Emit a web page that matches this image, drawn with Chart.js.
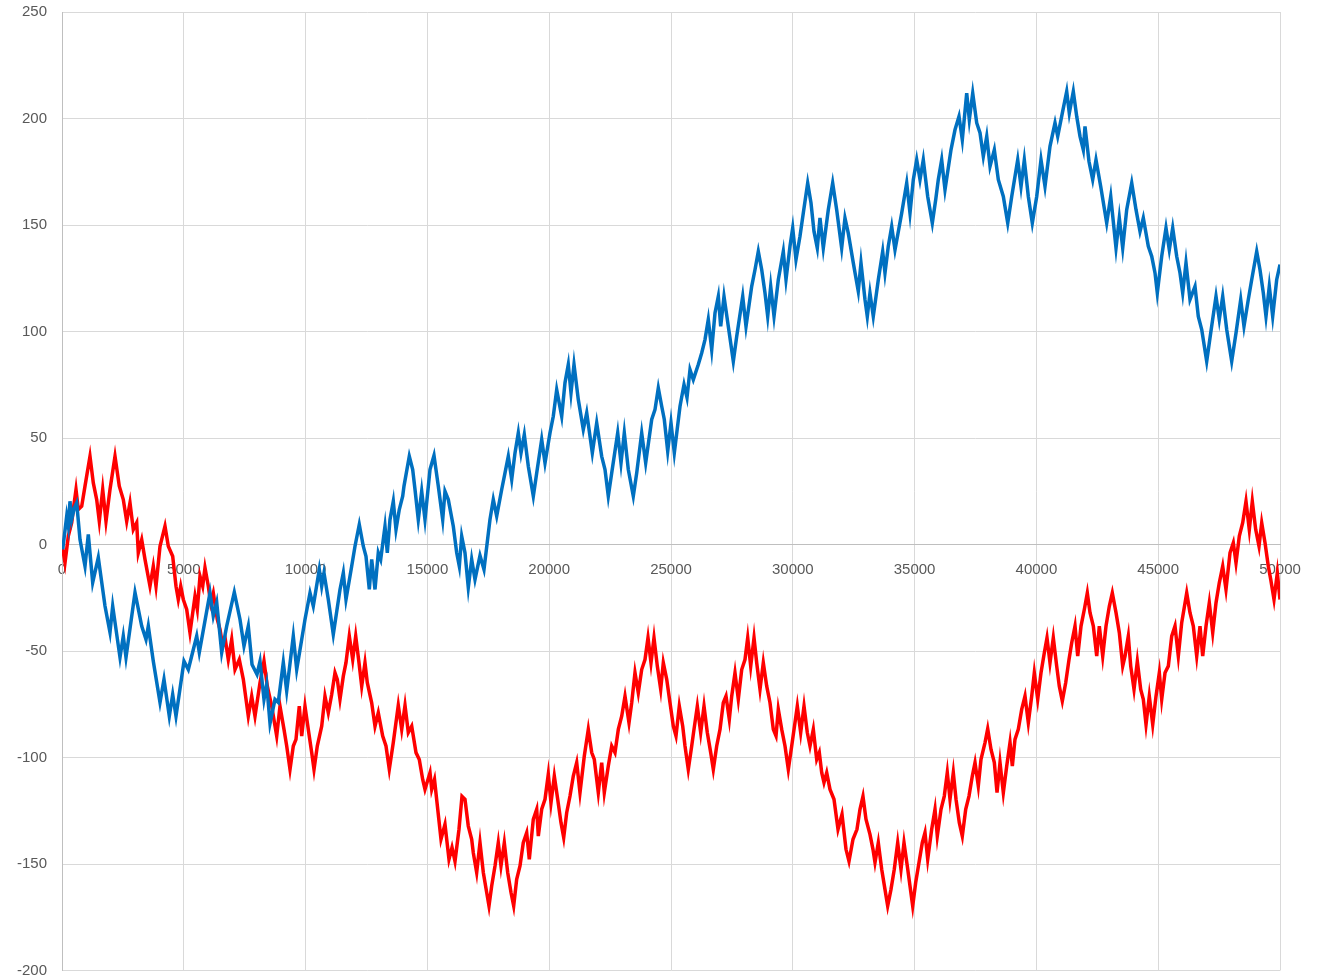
<!DOCTYPE html>
<html>
<head>
<meta charset="utf-8">
<title>Random walks</title>
<script src="https://cdn.jsdelivr.net/npm/chart.js@4.4.1/dist/chart.umd.min.js"></script>
<style>
    html, body { margin: 0; padding: 0; background: #ffffff; }
    #wrap { width: 1319px; height: 978px; }
</style>
</head>
<body>
<div id="wrap"><canvas id="walkChart" width="1319" height="978"></canvas></div>
<script>
// [step, position] pairs for the two walks
const blueWalk = [
    [0,0],[30,-2.3],[193,13.3],[259,8.6],[328,20.3],[398,11.7],[505,17.2],[603,19.6],[739,2.3],[944,-10.2],
    [1080,4.7],[1260,-17.8],[1490,-6.1],[1765,-28.9],[1970,-41.3],[2081,-28.9],[2381,-53],[2516,-43],[2627,-53],[2997,-22.5],
    [3272,-38.3],[3448,-44.6],[3543,-38.3],[3748,-54.8],[4023,-74.1],[4187,-63.3],[4405,-80.6],[4544,-70.4],[4680,-80.6],[5008,-54.8],
    [5185,-58.7],[5530,-43],[5636,-50.7],[6075,-22.7],[6211,-33.6],[6351,-27.2],[6556,-50.7],[6761,-38.3],[7073,-22.4],[7307,-35.2],
    [7471,-47.7],[7648,-38.3],[7800,-56.3],[8005,-61],[8128,-54.9],[8292,-72.7],[8403,-65.7],[8539,-84],[8744,-72.7],[8879,-74.1],
    [9085,-55.4],[9224,-68.8],[9495,-43],[9635,-58.7],[9840,-44.6],[9975,-35.2],[10181,-22.7],[10316,-28.9],[10562,-11.7],[10661,-19.6],
    [10755,-13.3],[10932,-25.8],[11137,-42.2],[11412,-21.1],[11548,-13.3],[11658,-25.8],[11892,-10.2],[12028,-0.8],[12204,9.4],[12368,-0.8],
    [12479,-5.5],[12615,-21.1],[12713,-7],[12849,-21.1],[12984,-3.9],[13083,-7],[13259,8.6],[13354,-3.9],[13464,11.7],[13600,20.3],
    [13711,7],[13846,16.4],[13986,22.7],[14039,27.4],[14257,41.4],[14396,35.2],[14491,25.8],[14626,11.7],[14766,25],[14901,11.7],
    [15107,35.2],[15271,41.8],[15448,27.4],[15628,11.7],[15722,25],[15858,21.1],[16063,8.6],[16203,-3.9],[16310,-10.2],[16408,3.9],
    [16543,-3.9],[16679,-20.2],[16818,-7],[16954,-16.4],[17159,-5.2],[17323,-11.7],[17569,11.7],[17705,21.1],[17845,13.3],[18050,25.8],
    [18186,33.6],[18321,41.4],[18461,30.5],[18596,43],[18732,52.4],[18843,43],[18978,51.6],[19142,36.7],[19348,22.7],[19487,33.6],
    [19692,49.3],[19828,38.3],[20033,52.4],[20168,60.2],[20308,72.7],[20513,60.2],[20648,75.9],[20784,84.5],[20895,71.2],[21018,84.5],
    [21195,68],[21400,54],[21540,61.8],[21770,43],[21950,57.1],[22155,41.4],[22291,35.2],[22426,22.7],[22566,33.6],[22812,52.4],
    [22948,38.3],[23083,52.4],[23247,35.2],[23452,22.7],[23592,33.6],[23797,52.4],[23961,38.3],[24208,58.7],[24343,63.3],[24479,73.5],
    [24618,64.9],[24725,58.7],[24865,43.8],[25000,57.1],[25136,43],[25370,64.9],[25534,75.1],[25657,69],[25780,82.1],[25916,77.4],
    [26121,84.5],[26260,89.9],[26396,96.2],[26531,105.6],[26671,91.5],[26806,108.7],[26942,116.5],[27040,102.4],[27176,116.5],[27353,102.4],
    [27558,86],[27697,97.7],[27944,116.5],[28079,102.4],[28313,121.2],[28448,129],[28584,137.6],[28724,129],[28859,118.1],[28970,107.1],
    [29093,121.2],[29229,107.1],[29405,124.3],[29610,137.6],[29721,124.3],[29885,140],[29996,148.6],[30131,133.7],[30295,144.7],[30431,155.6],
    [30611,169.7],[30747,160.3],[30870,147],[31005,139.2],[31116,153.3],[31252,139.2],[31457,157.2],[31637,169.7],[31801,157.2],[32006,139.2],
    [32142,153.3],[32277,146.2],[32483,132.2],[32688,118.9],[32799,132.2],[32963,115],[33058,107.1],[33168,118.1],[33304,107.1],[33510,124.3],
    [33690,137.6],[33784,127.5],[33920,140],[34060,149.3],[34195,138.4],[34470,155.6],[34676,169.7],[34811,155.6],[34947,171.3],[35086,180.6],
    [35222,171.3],[35357,180.6],[35538,163.4],[35727,150.9],[35866,161.9],[35973,171.3],[36112,180.6],[36248,166.6],[36494,185.3],[36659,194.7],
    [36823,201],[36958,190],[37139,211.9],[37246,199.4],[37386,211.9],[37550,197.9],[37686,193.2],[37821,182.2],[37961,191.6],[38096,177.5],
    [38273,185.3],[38437,171.3],[38642,163.4],[38823,150.9],[38987,163.4],[39233,180.6],[39369,168.1],[39504,180.6],[39668,163.4],[39832,150.9],
    [40013,163.4],[40189,180.6],[40353,168.1],[40558,186.9],[40764,197.9],[40875,191.6],[41064,202.5],[41244,212.7],[41351,202.5],[41515,212.7],
    [41655,201],[41790,191.6],[41926,185.3],[41995,196.3],[42159,179.8],[42311,171.3],[42447,180.6],[42640,168.1],[42886,150.9],[43051,163.4],
    [43268,139.2],[43404,153.3],[43543,139.2],[43707,157.2],[43913,169.7],[44089,157.2],[44253,147],[44389,153.3],[44594,140],[44734,135.3],
    [44869,127.5],[44963,118.1],[45144,135.3],[45320,148.6],[45456,138.4],[45595,148.6],[45759,135.3],[45895,127.5],[46006,118.1],[46141,132.2],
    [46305,115],[46511,121.2],[46646,107.1],[46786,100.9],[46991,86],[47155,99.3],[47373,116.5],[47508,105.6],[47648,116.5],[47812,100.9],
    [48017,86],[48194,99.3],[48387,115],[48522,102.4],[48699,115],[48838,124.3],[49044,137.6],[49179,129],[49315,118.1],[49425,107.1],
    [49561,121.2],[49700,107.1],[49864,124.3],[50000,131.4]
];

const redWalk = [
    [0,0],[123,-8.6],[259,3.9],[398,10.2],[464,16.4],[575,25.8],[669,16.4],[809,18],[944,27.4],[1149,41.4],
    [1285,28.9],[1424,21.1],[1531,10.9],[1671,25.8],[1806,10.9],[1970,25.8],[2176,41.4],[2352,27.4],[2516,21.1],[2656,10.9],
    [2791,19.6],[2927,7],[3066,10.2],[3132,-3.9],[3272,2.3],[3407,-7],[3612,-19.6],[3748,-10.2],[3859,-19.6],[4023,-0.8],
    [4228,8.6],[4364,-0.8],[4544,-5.5],[4680,-19.6],[4774,-25.8],[4873,-19.6],[4980,-25.8],[5119,-30.5],[5254,-41.4],[5460,-24.3],
    [5554,-30.5],[5665,-14.9],[5776,-19.6],[5870,-10.9],[6006,-19.6],[6104,-27.4],[6211,-22.7],[6375,-35.2],[6486,-39.9],[6597,-47.7],
    [6704,-44.6],[6827,-54],[6966,-44.6],[7102,-58.7],[7278,-54],[7443,-63.3],[7648,-80.6],[7787,-71.2],[7923,-80.6],[8128,-64.9],
    [8292,-54.8],[8428,-66.5],[8608,-75.9],[8814,-89.9],[8949,-75.9],[9113,-86.8],[9224,-94.6],[9360,-105.6],[9495,-94.6],[9606,-91.5],
    [9741,-75.9],[9840,-89.9],[9975,-75.9],[10111,-86.8],[10250,-97.7],[10345,-105.6],[10480,-94.6],[10661,-85.3],[10796,-71.2],[10932,-79],
    [11071,-70.4],[11207,-60.2],[11301,-63.3],[11412,-72.7],[11548,-61.8],[11658,-55.5],[11794,-43],[11934,-54],[12057,-43],[12192,-55.5],
    [12303,-66.5],[12438,-55.5],[12533,-64.9],[12713,-74.3],[12849,-85.3],[12984,-79],[13165,-89.9],[13300,-94.6],[13436,-105.6],[13600,-93],
    [13805,-75.5],[13945,-86.8],[14081,-75.5],[14216,-88.3],[14356,-85.3],[14532,-97.7],[14667,-100.9],[14807,-110.3],[14901,-115],[15107,-107.1],
    [15177,-115],[15292,-110.3],[15394,-121.1],[15558,-138.4],[15722,-131.4],[15886,-147.8],[16010,-142.2],[16133,-148.7],[16297,-133.7],[16420,-118.2],
    [16543,-119.6],[16679,-132.2],[16818,-138.4],[16884,-144.7],[17023,-154],[17159,-140],[17295,-154],[17434,-163.4],[17528,-169.7],[17639,-160.3],
    [17775,-150.9],[17910,-140],[18021,-150.9],[18157,-140],[18296,-154],[18432,-163.4],[18542,-169.7],[18665,-157.2],[18801,-150.9],[18936,-140],
    [19076,-135.3],[19183,-147.8],[19347,-129],[19487,-124.3],[19553,-136.9],[19692,-124.3],[19828,-119.6],[19963,-107.9],[20074,-121.2],[20210,-108.7],
    [20349,-119.6],[20484,-130.6],[20595,-137.6],[20718,-125.9],[20854,-118.1],[20989,-108.7],[21129,-102.4],[21264,-116.5],[21441,-99.3],[21605,-86.8],
    [21745,-97.7],[21852,-100.9],[22016,-116.5],[22155,-102.4],[22262,-116.5],[22426,-104],[22566,-94.6],[22701,-97.7],[22837,-86.8],[22976,-80.6],
    [23112,-71.2],[23276,-83.7],[23387,-74.3],[23522,-60.2],[23658,-69.6],[23797,-58.7],[23933,-54],[24056,-43.8],[24179,-55.5],[24302,-43.8],
    [24438,-57.1],[24577,-68],[24684,-55.5],[24824,-63.3],[24959,-74.3],[25095,-85.3],[25205,-89.9],[25341,-75.9],[25481,-85.3],[25575,-94.6],
    [25710,-105.6],[25850,-94.6],[25944,-86.8],[26080,-75.9],[26219,-88.3],[26355,-75.9],[26490,-88.3],[26630,-97.7],[26737,-105.6],[26876,-94.6],
    [27012,-86.8],[27147,-74.3],[27258,-71.2],[27394,-82.1],[27492,-71.2],[27627,-60.2],[27763,-72.7],[27903,-58.7],[28038,-54],[28149,-43.8],
    [28272,-57.1],[28408,-43.8],[28518,-55.5],[28654,-68],[28789,-55.5],[28929,-66.5],[29064,-74.3],[29200,-86.8],[29311,-89.9],[29405,-77.4],
    [29545,-86.8],[29680,-94.6],[29816,-105.6],[29955,-94.6],[30050,-86.8],[30185,-75.9],[30324,-88.3],[30460,-75.9],[30595,-88.3],[30706,-94.6],
    [30842,-86.8],[30981,-100.9],[31088,-97.7],[31187,-107.1],[31281,-111.8],[31392,-107.1],[31527,-115],[31691,-119.6],[31856,-133.7],[32020,-126.7],
    [32184,-143.1],[32307,-148.7],[32471,-138.4],[32635,-133.7],[32758,-124.3],[32881,-118.2],[33004,-129],[33168,-136.1],[33291,-143.1],[33374,-149.3],
    [33510,-140],[33649,-152.5],[33784,-161.9],[33895,-169.7],[34031,-161.9],[34166,-152.5],[34306,-140],[34442,-152.5],[34565,-140],[34700,-150.9],
    [34811,-160.3],[34922,-169.7],[35045,-158.7],[35181,-149.3],[35316,-140],[35427,-135.3],[35538,-147.8],[35702,-133.7],[35838,-124.3],[35932,-136.9],
    [36084,-124.3],[36219,-118.1],[36342,-107.1],[36453,-119.6],[36589,-107.1],[36700,-119.6],[36835,-130.6],[36958,-136.9],[37098,-124.3],[37233,-118.1],
    [37369,-108.7],[37480,-102.4],[37615,-113.4],[37726,-100.9],[37891,-93],[38001,-86.5],[38137,-96.2],[38273,-102.4],[38384,-116.5],[38506,-102.4],
    [38642,-116.5],[38782,-104],[38917,-93],[39012,-104],[39121,-91.5],[39257,-86.8],[39397,-77.4],[39532,-71.2],[39668,-83.7],[39807,-71.2],
    [39914,-60.2],[40054,-72.7],[40189,-60.2],[40325,-50.8],[40435,-43.8],[40558,-55.5],[40694,-43.8],[40833,-57.1],[40940,-66.5],[41064,-73.5],
    [41203,-64.9],[41339,-54],[41450,-46.1],[41585,-38.3],[41696,-52.4],[41832,-38.3],[41967,-30.5],[42090,-22.7],[42201,-32],[42337,-38.3],
    [42476,-52.4],[42583,-38.3],[42722,-52.4],[42858,-38.3],[42993,-29],[43116,-22.7],[43268,-32],[43404,-41.4],[43543,-57.1],[43638,-52.4],
    [43773,-43],[43872,-57.1],[44007,-68],[44143,-54.8],[44282,-68],[44389,-72.7],[44500,-84.5],[44635,-71.2],[44775,-84.5],[44910,-71.2],
    [45046,-60.2],[45144,-72.7],[45280,-60.2],[45415,-57.1],[45555,-43],[45690,-38.3],[45826,-52.4],[45965,-36.7],[46171,-22.7],[46305,-32],
    [46441,-38.3],[46581,-52.4],[46716,-38.3],[46827,-52.4],[46963,-38.3],[47098,-27.4],[47238,-41.4],[47373,-27.4],[47508,-18],[47648,-10.2],
    [47783,-21.1],[47948,-3.9],[48083,0.8],[48194,-8.6],[48330,3.9],[48469,10.2],[48604,20.3],[48740,7],[48863,20.3],[49003,7],
    [49138,-0.8],[49249,10.2],[49385,0.8],[49520,-10.2],[49619,-16.4],[49754,-25.8],[49890,-13.3],[50000,-25.8]
];

const xTicks = [0, 5000, 10000, 15000, 20000, 25000, 30000, 35000, 40000, 45000, 50000];
const yTicks = [-200, -150, -100, -50, 0, 50, 100, 150, 200, 250];

const labelFont = { family: "'Liberation Sans Narrow', 'Liberation Sans', Arial, sans-serif", size: 15, lineHeight: 1 };
const gridGray = '#d9d9d9';

function toPoints(walk) {
    return walk.map(p => ({ x: p[0], y: p[1] }));
}

const ctx = document.getElementById('walkChart').getContext('2d');
const walkChart = new Chart(ctx, {
    type: 'line',
    data: {
        datasets: [
            {
                label: 'Blue',
                data: toPoints(blueWalk),
                borderColor: '#0070c0',
                borderWidth: 3.5,
                pointRadius: 0,
                tension: 0,
                fill: false
            },
            {
                label: 'Red',
                data: toPoints(redWalk),
                borderColor: '#ff0000',
                borderWidth: 3.5,
                pointRadius: 0,
                tension: 0,
                fill: false
            }
        ]
    },
    options: {
        responsive: false,
        devicePixelRatio: 1,
        animation: false,
        parsing: false,
        layout: { padding: { top: 12, right: 39, bottom: 7, left: 0 } },
        plugins: {
            legend: { display: false },
            tooltip: { enabled: false }
        },
        scales: {
            x: {
                type: 'linear',
                min: 0,
                max: 50000,
                position: { y: 0 },
                afterBuildTicks: scale => { scale.ticks = xTicks.map(v => ({ value: v })); },
                grid: { color: gridGray, lineWidth: 1, drawTicks: false },
                border: { display: true, color: '#bfbfbf' },
                ticks: { display: false }
            },
            // second axis only carries the labels so they sit above the lines
            xLabels: {
                type: 'linear',
                min: 0,
                max: 50000,
                position: { y: 0 },
                z: 1,
                afterBuildTicks: scale => { scale.ticks = xTicks.map(v => ({ value: v })); },
                grid: { display: false, drawTicks: false },
                border: { display: false },
                ticks: {
                    color: '#595959',
                    font: labelFont,
                    padding: 18,
                    maxRotation: 0,
                    autoSkip: false,
                    callback: v => String(v)
                }
            },
            y: {
                type: 'linear',
                min: -200,
                max: 250,
                position: 'left',
                afterBuildTicks: scale => { scale.ticks = yTicks.map(v => ({ value: v })); },
                afterFit: scale => { scale.width = 62; },
                grid: {
                    color: c => (c.tick && c.tick.value === 0) ? '#bfbfbf' : gridGray,
                    lineWidth: 1,
                    drawTicks: true,
                    tickLength: 15,
                    tickColor: 'rgba(0,0,0,0)'
                },
                border: { display: true, color: '#bfbfbf' },
                ticks: { color: '#595959', font: labelFont, padding: 0, callback: v => String(v) }
            }
        }
    }
});
</script>
</body>
</html>
